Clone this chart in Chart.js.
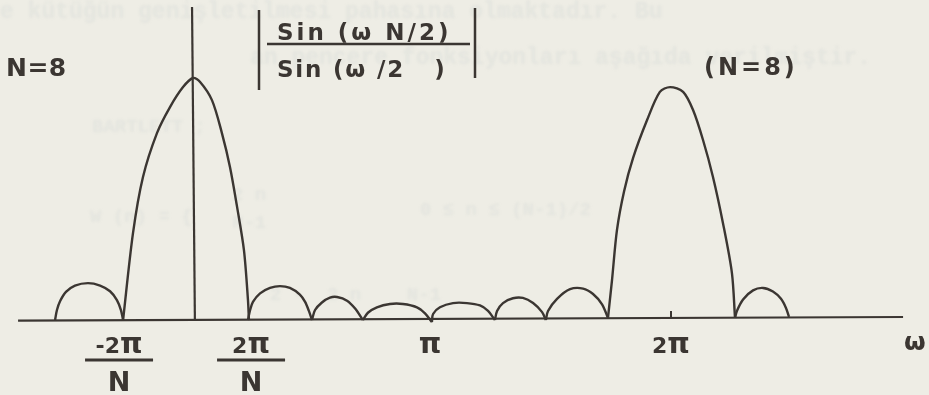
<!DOCTYPE html>
<html>
<head>
<meta charset="utf-8">
<script src="https://cdn.jsdelivr.net/npm/chart.js@4"></script>
<style>
  html, body { margin: 0; padding: 0; background: #eeede5; }
  #wrap { width: 929px; height: 395px; position: relative; }
</style>
</head>
<body>
<div id="wrap"><canvas id="chart"></canvas></div>
<script>
// |sin(wN/2) / sin(w/2)| for N = 8, hand-sketched lobes
// x in units of pi, y = magnitude (main lobe peak = N)
const lobeLeft  = [[-0.582,0],[-0.574,0.33],[-0.561,0.62],[-0.536,0.93],[-0.498,1.14],[-0.443,1.22],
                   [-0.392,1.14],[-0.350,0.95],[-0.321,0.66],[-0.304,0.33],[-0.295,0]];
const mainLobe  = [[-0.295,0],[-0.253,2.88],[-0.211,4.73],[-0.152,6.18],[-0.097,7.04],[-0.042,7.70],[0,8.0],
                   [0.030,7.87],[0.080,7.27],[0.122,6.18],[0.156,5.06],[0.186,3.74],[0.215,2.31],[0.232,0.66],[0.236,0]];
const side1 = [[0.232,0],[0.241,0.33],[0.253,0.60],[0.283,0.88],[0.325,1.06],[0.367,1.12],[0.409,1.06],
               [0.451,0.84],[0.473,0.60],[0.489,0.30],[0.502,0]];
const side2 = [[0.502,0],[0.515,0.33],[0.544,0.58],[0.578,0.74],[0.608,0.76],[0.650,0.64],[0.684,0.38],[0.717,0]];
const side3 = [[0.717,0],[0.738,0.24],[0.776,0.42],[0.831,0.53],[0.886,0.53],[0.945,0.42],[0.979,0.22],[1.008,-0.07]];
const side4 = [[1.008,-0.07],[1.013,0.20],[1.042,0.42],[1.097,0.56],[1.156,0.56],[1.211,0.48],[1.245,0.30],[1.274,0]];
const side5 = [[1.274,0],[1.283,0.30],[1.308,0.56],[1.350,0.72],[1.392,0.73],[1.435,0.56],[1.473,0.26],[1.489,0]];
const side6 = [[1.489,0],[1.498,0.30],[1.536,0.70],[1.591,1.02],[1.646,1.04],[1.688,0.86],[1.726,0.52],[1.751,0.07]];
const mainLobe2 = [[1.751,0.07],[1.768,1.32],[1.789,2.98],[1.819,4.26],[1.857,5.36],[1.916,6.61],[1.970,7.54],[2.013,7.70],
                   [2.068,7.54],[2.110,6.94],[2.152,5.95],[2.194,4.73],[2.236,3.21],[2.274,1.55],[2.287,0.07]];
const lobeRight = [[2.287,0.07],[2.295,0.30],[2.321,0.68],[2.363,0.98],[2.405,1.06],[2.447,0.94],[2.481,0.70],
                   [2.502,0.40],[2.515,0.10]];

// axes as drawn
const wAxis = [[-0.738,-0.02],[2.996,0.10]];
const magAxis = [[-0.004,10.35],[0.008,0]];

// tick positions along w and their labels (numerator/denominator split by '/')
const tickValues = [-0.312, 0.245, 1.0, 2.017];
const tickLabels = ['-2π/N', '2π/N', 'π', '2π'];
const markedTicks = [2.017];

const INK = '#3b3632';
const FONT = '"DejaVu Sans"';

const toPts = arr => arr.map(p => ({ x: p[0], y: p[1] }));

function spaced(ctx, text, x, y, size, gap, align) {
  const chars = [...text].map(ch => ({ ch, s: ch === 'π' ? size * 1.3 : size }));
  let w = 0;
  chars.forEach(c => { ctx.font = 'bold ' + c.s + 'px ' + FONT; c.w = ctx.measureText(c.ch).width; w += c.w + gap; });
  w -= gap;
  let cx = align === 'center' ? x - w / 2 : x;
  chars.forEach(c => { ctx.font = 'bold ' + c.s + 'px ' + FONT; ctx.fillText(c.ch, cx, y); cx += c.w + gap; });
  return w;
}

const paper = {
  id: 'paper',
  beforeDraw(chart) {
    const ctx = chart.ctx;
    ctx.save();
    ctx.fillStyle = '#eeede5';
    ctx.fillRect(0, 0, chart.width, chart.height);
    // faint print showing through from the other side of the sheet
    ctx.filter = 'blur(1.8px)';
    ctx.fillStyle = 'rgba(120,140,150,0.08)';
    ctx.font = 'bold 23px "Liberation Mono"';
    ctx.textBaseline = 'alphabetic';
    ctx.fillText('e kütüğün genişletilmesi pahasına olmaktadır. Bu', 0, 18);
    ctx.fillText('an pencere fonksiyonları aşağıda verilmiştir.', 250, 64);
    ctx.font = 'bold 19px "Liberation Mono"';
    ctx.fillText('BARTLETT ;', 92, 132);
    ctx.fillText('W (n) = {', 90, 222);
    ctx.fillText('2 n', 232, 200);
    ctx.fillText('N-1', 232, 228);
    ctx.fillText('0 ≤ n ≤ (N-1)/2', 420, 215);
    ctx.fillText('2 -  2 n    N-1', 270, 300);
    ctx.restore();
  },
  afterDraw(chart) {
    const ctx = chart.ctx;
    const xs = chart.scales.x;
    ctx.save();
    ctx.fillStyle = INK;
    ctx.strokeStyle = INK;
    ctx.textBaseline = 'alphabetic';

    // tick marks on the w axis
    ctx.lineWidth = 2;
    markedTicks.forEach(v => {
      const px = xs.getPixelForValue(v);
      ctx.beginPath(); ctx.moveTo(px, 311); ctx.lineTo(px, 319); ctx.stroke();
    });

    // tick labels
    tickValues.forEach((v, i) => {
      const px = xs.getPixelForValue(v);
      const parts = tickLabels[i].split('/');
      spaced(ctx, parts[0], px, 353, 22, 0, 'center');
      if (parts.length > 1) {
        ctx.lineWidth = 3;
        ctx.beginPath(); ctx.moveTo(px - 34, 360); ctx.lineTo(px + 34, 360); ctx.stroke();
        spaced(ctx, parts[1], px, 391, 27, 0, 'center');
      }
    });
    spaced(ctx, 'ω', 904, 350, 25, 0, 'left');

    // annotations
    spaced(ctx, 'N=8', 6, 76, 25, 0.5, 'left');
    spaced(ctx, '(N=8)', 704, 75, 24, 3, 'left');

    // |sin(wN/2) / sin(w/2)|
    ctx.lineWidth = 2.5;
    ctx.beginPath(); ctx.moveTo(259, 10); ctx.lineTo(259, 90); ctx.stroke();
    ctx.beginPath(); ctx.moveTo(475, 8); ctx.lineTo(475, 78); ctx.stroke();
    ctx.beginPath(); ctx.moveTo(267, 44); ctx.lineTo(470, 44); ctx.stroke();
    spaced(ctx, 'Sin (ω N/2)', 277, 40, 23, 3, 'left');
    spaced(ctx, 'Sin (ω /2   )', 277, 77, 23, 1.8, 'left');
    ctx.restore();
  }
};

const curve = (label, arr) => ({
  label, data: toPts(arr), showLine: true, pointRadius: 0,
  borderColor: INK, borderWidth: 2.4, tension: 0.3, clip: false
});

new Chart(document.getElementById('chart'), {
  type: 'scatter',
  data: {
    datasets: [
      { label: 'w', data: toPts(wAxis), showLine: true, pointRadius: 0, borderColor: INK, borderWidth: 2.2, tension: 0 },
      { label: 'mag', data: toPts(magAxis), showLine: true, pointRadius: 0, borderColor: INK, borderWidth: 2.2, tension: 0 },
      curve('lobeLeft', lobeLeft),
      curve('mainLobe', mainLobe),
      curve('side1', side1),
      curve('side2', side2),
      curve('side3', side3),
      curve('side4', side4),
      curve('side5', side5),
      curve('side6', side6),
      curve('mainLobe2', mainLobe2),
      curve('lobeRight', lobeRight)
    ]
  },
  options: {
    responsive: true,
    maintainAspectRatio: false,
    animation: false,
    layout: { padding: 0 },
    plugins: { legend: { display: false }, tooltip: { enabled: false } },
    scales: {
      x: { type: 'linear', min: -0.8143, max: 3.1055, display: false },
      y: { type: 'linear', min: -2.479, max: 10.579, display: false }
    }
  },
  plugins: [paper]
});
</script>
</body>
</html>
